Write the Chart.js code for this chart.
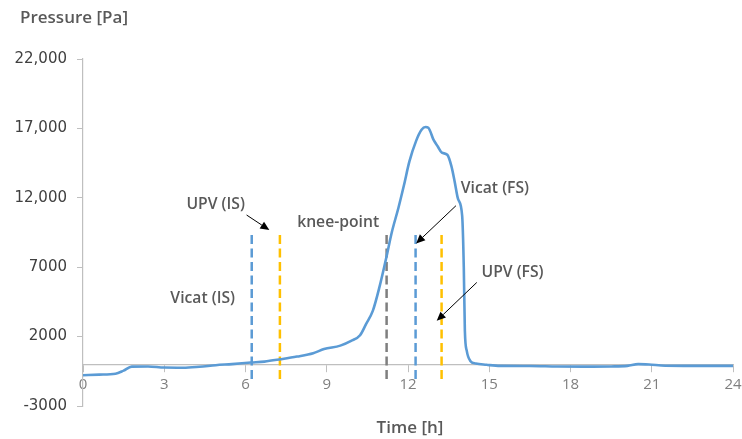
<!DOCTYPE html>
<html>
<head>
<meta charset="utf-8">
<script src="https://cdn.jsdelivr.net/npm/chart.js@4.4.1/dist/chart.umd.min.js"></script>
<style>
  body { margin: 0; background: #fff; }
  #wrap { position: relative; width: 742px; height: 439px; }
</style>
</head>
<body>
<div id="wrap"><canvas id="myChart"></canvas></div>
<script>
// data
const hours = [0, 0.6, 1.2, 1.5, 1.8, 2.4, 3.0, 3.7, 4.3, 4.9, 5.5, 6.2, 6.7, 7.3, 7.9, 8.5, 8.9, 9.5, 9.9, 10.23,
  10.45, 10.7, 10.95, 11.2, 11.4, 11.65, 11.85, 12.05, 12.3, 12.5, 12.65, 12.75, 12.95, 13.1, 13.25, 13.45, 13.6,
  13.72, 13.85, 14.0, 14.06, 14.1, 14.17, 14.3, 14.5, 14.9, 15.4, 16.5, 17.5, 18.5, 19.5, 20.1, 20.5, 20.9, 21.5, 22.5, 24];
const pressure = [-780, -740, -680, -450, -160, -150, -230, -240, -170, -60, 20, 130, 200, 370, 560, 800, 1100, 1350, 1690, 2100,
  2900, 3850, 5600, 7700, 9500, 11300, 12900, 14600, 16100, 16900, 17100, 17050, 16150, 15700, 15250, 15100, 14300,
  13200, 11900, 10700, 7000, 2400, 970, 250, 60, -30, -110, -120, -150, -160, -150, -110, 20, -10, -100, -110, -110];

const yTickValues = [-3000, 2000, 7000, 12000, 17000, 22000];
const yTickLabels = ['-3000', '2000', '7000', '12,000', '17,000', '22,000'];

// dashed marker lines (hours)
const markerNames = ['Vicat (IS)', 'UPV (IS)', 'knee-point', 'Vicat (FS)', 'UPV (FS)'];
const markerHours = [6.23, 7.27, 11.21, 12.28, 13.24];
const markerLow = -1050;
const markerHigh = 9500;

// text labels
const labelText = ['UPV (IS)', 'Vicat (IS)', 'knee-point', 'Vicat (FS)', 'UPV (FS)'];
const labelHour = [4.9, 4.42, 9.42, 15.21, 15.86];
const labelPa = [11550, 4760, 10200, 12650, 6630];

// arrows: from (hour, Pa) to (hour, Pa)
const arrowFromHour = [6.04, 13.77, 14.54];
const arrowFromPa = [10760, 11430, 5900];
const arrowToHour = [6.88, 12.3, 13.06];
const arrowToPa = [9675, 8710, 3140];

const markerColors = ['#5B9BD5', '#FFC000', '#7F7F7F', '#5B9BD5', '#FFC000'];

const datasets = [{
  data: hours.map((h, i) => ({ x: h, y: pressure[i] })),
  borderColor: '#5B9BD5',
  borderWidth: 2.6,
  pointRadius: 0,
  cubicInterpolationMode: 'monotone'
}];
markerHours.forEach((h, i) => {
  datasets.push({
    label: markerNames[i],
    data: [{ x: h, y: markerLow }, { x: h, y: markerHigh }],
    borderColor: markerColors[i],
    borderWidth: 2.5,
    borderDash: [9, 4.5],
    pointRadius: 0
  });
});

const annotate = {
  id: 'annotate',
  afterDatasetsDraw(chart) {
    const { ctx, scales: { x, y } } = chart;
    ctx.save();
    // arrows
    ctx.strokeStyle = '#000';
    ctx.fillStyle = '#000';
    ctx.lineWidth = 1;
    arrowFromHour.forEach((h, i) => {
      const x1 = x.getPixelForValue(h), y1 = y.getPixelForValue(arrowFromPa[i]);
      const x2 = x.getPixelForValue(arrowToHour[i]), y2 = y.getPixelForValue(arrowToPa[i]);
      const a = Math.atan2(y2 - y1, x2 - x1);
      const len = 9, w = 4;
      const bx = x2 - len * Math.cos(a), by = y2 - len * Math.sin(a);
      ctx.beginPath();
      ctx.moveTo(x1, y1);
      ctx.lineTo(bx, by);
      ctx.stroke();
      ctx.beginPath();
      ctx.moveTo(x2, y2);
      ctx.lineTo(bx + w * Math.sin(a), by - w * Math.cos(a));
      ctx.lineTo(bx - w * Math.sin(a), by + w * Math.cos(a));
      ctx.closePath();
      ctx.fill();
    });
    // labels
    ctx.fillStyle = '#595959';
    ctx.font = '600 15.7px "Open Sans"';
    ctx.textAlign = 'center';
    ctx.textBaseline = 'middle';
    labelText.forEach((t, i) => {
      ctx.fillText(t, x.getPixelForValue(labelHour[i]), y.getPixelForValue(labelPa[i]));
    });
    // axis titles
    ctx.font = '600 17px "Open Sans"';
    ctx.textAlign = 'left';
    ctx.fillText('Pressure [Pa]', 20, 18);
    ctx.textAlign = 'center';
    ctx.fillText('Time [h]', (x.left + x.right) / 2 + 2, 428);
    ctx.restore();
  }
};

const ctx = document.getElementById('myChart');
new Chart(ctx, {
  type: 'line',
  data: { datasets: datasets },
  options: {
    responsive: true,
    maintainAspectRatio: false,
    animation: false,
    layout: { padding: { top: 59, bottom: 33, right: 9, left: 0 } },
    plugins: { legend: { display: false }, tooltip: { enabled: false } },
    scales: {
      x: {
        type: 'linear',
        position: { y: 0 },
        min: 0,
        max: 24,
        ticks: { stepSize: 3, color: '#7F7F7F', padding: 4, font: { family: 'Open Sans', size: 15 } },
        grid: { drawOnChartArea: false, tickLength: 7, color: '#BFBFBF' },
        border: { color: '#BFBFBF', width: 1.2 },
        afterFit: (s) => { s.paddingLeft = 0; s.paddingRight = 0; }
      },
      y: {
        min: -3000,
        max: 22000,
        ticks: {
          stepSize: 5000,
          color: '#404040',
          padding: 10,
          font: { family: 'DejaVu Sans', size: 15 },
          callback: (v) => yTickLabels[yTickValues.indexOf(v)]
        },
        grid: { drawOnChartArea: false, tickLength: 6, color: '#BFBFBF' },
        border: { color: '#BFBFBF', width: 1.2 },
        afterFit: (s) => { s.width = 83; }
      }
    }
  },
  plugins: [annotate]
});
</script>
</body>
</html>
